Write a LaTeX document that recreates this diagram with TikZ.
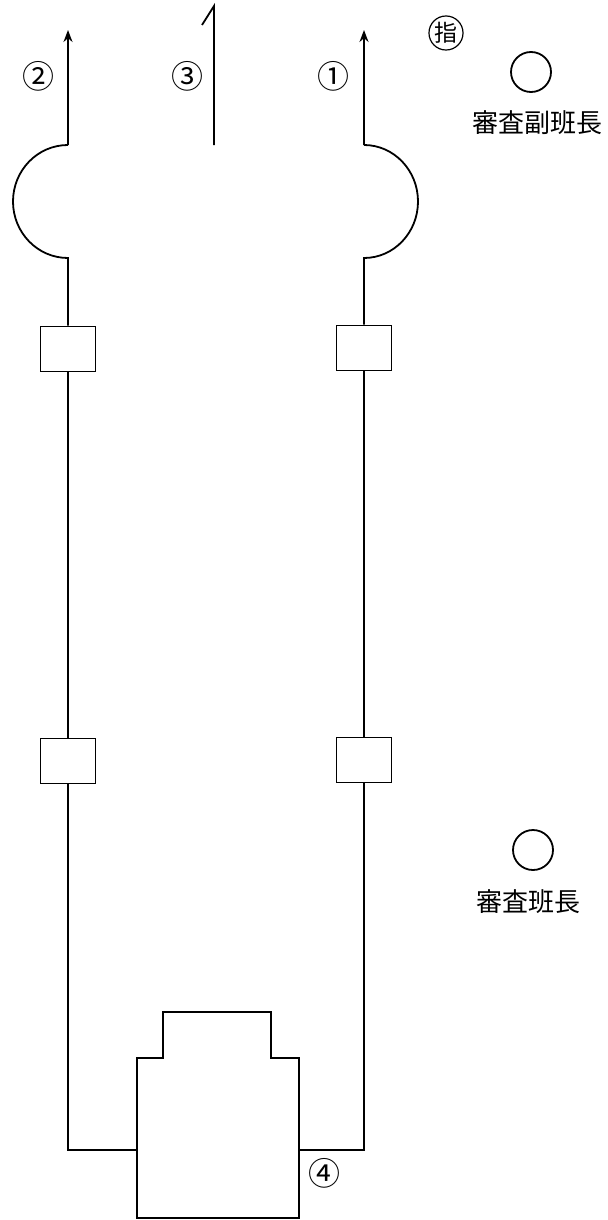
\documentclass[tikz,border=0pt]{standalone}
\usepackage{fontspec}
\newfontfamily\jpfont{Noto Sans CJK JP}
\usetikzlibrary{arrows.meta}

\begin{document}
\begin{tikzpicture}[x=0.5pt,y=0.5pt,line width=0.9pt]
        \useasboundingbox (0,0) rectangle (608,-1220);

        % ends of the two pipes
        \coordinate (ltop) at (68,-145);
        \coordinate (lend) at (68,-30);
        \coordinate (rtop) at (364,-145);
        \coordinate (rend) at (364,-30);
        \coordinate (ptop)  at (214,-6);
        \coordinate (phook) at (202,-25);
        \coordinate (pbot)  at (214,-145);

        \begin{scope}[every node/.style={rectangle,draw,minimum width=27.5pt,minimum height=22.5pt}]
          \node (l1) at (68,-349)  {};
          \node (r1) at (364,-348) {};
          \node (l2) at (68,-761)  {};
          \node (r2) at (364,-760) {};
        \end{scope}

        \begin{scope}[every node/.style={circle,draw,minimum size=20pt,inner sep=0pt}]
          \node (vice)  at (531,-72)  {};
          \node (chief) at (533,-850) {};
        \end{scope}

        \begin{scope}[every node/.style={font=\jpfont\fontsize{16pt}{16pt}\selectfont}]
          \node (n2) at (39,-76)    {②};
          \node (n3) at (187,-76)   {③};
          \node (n1) at (333,-76)   {①};
          \node (n4) at (324,-1173) {④};
          \node[circle,draw,line width=0.6pt,inner sep=0.5pt,font=\jpfont\fontsize{11.5pt}{11.5pt}\selectfont] (shi) at (446,-33) {指};
        \end{scope}

        \begin{scope}[every node/.style={font=\jpfont\fontsize{13pt}{13pt}\selectfont}]
          \node (vicet)  at (537,-123) {審査副班長};
          \node (chieft) at (528,-902) {審査班長};
        \end{scope}

        % desk
        \draw (137,-1218) -- (137,-1058) -- (163,-1058) -- (163,-1012)
          -- (271,-1012) -- (271,-1058) -- (299,-1058) -- (299,-1218) -- cycle;
        \coordinate (deskl) at (137,-1150);
        \coordinate (deskr) at (299,-1150);

        \draw[-{Stealth[length=6pt,width=4.5pt]}] (ltop) -- (lend);
        \draw[-{Stealth[length=6pt,width=4.5pt]}] (rtop) -- (rend);
        \draw (phook) -- (ptop) -- (pbot);

        \draw (ltop) arc[start angle=90,end angle=270,x radius=55,y radius=56.5] -- (l1);
        \draw (rtop) arc[start angle=90,end angle=-90,x radius=54,y radius=56.5] -- (r1);
        \draw (l1) -- (l2);
        \draw (r1) -- (r2);
        \draw (l2) |- (deskl);
        \draw (r2) |- (deskr);

      \end{tikzpicture}
\end{document}
